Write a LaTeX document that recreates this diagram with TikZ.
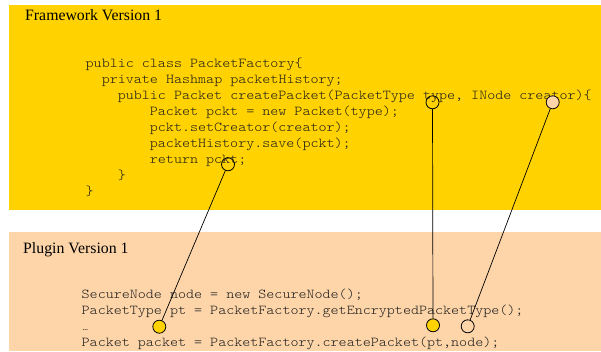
\documentclass[tikz,border=0pt]{standalone}
\usepackage{fontspec}
\setmainfont{Liberation Serif}
\newfontfamily\codefont[WordSpace={1,0,0},FakeStretch=1.125]{Latin Modern Mono Light}
\definecolor{frameyellow}{HTML}{FFD200}
\definecolor{pluginpeach}{HTML}{FDD5A9}
\definecolor{codegray}{HTML}{1E1E1E}
\tikzset{
  title/.style={anchor=base west, inner sep=0pt, font=\fontsize{15.8}{18}\selectfont},
  code/.style={anchor=base west, inner sep=0pt, text=codegray, font=\codefont\fontsize{13.6}{16}\selectfont},
  pin/.style={circle, draw=black, line width=0.8pt, minimum size=13pt, inner sep=0pt},
  link/.style={draw=black, line width=0.7pt}
}
\begin{document}
\begin{tikzpicture}[x=1pt,y=-1pt]
  \useasboundingbox[fill=white] (0,0) rectangle (601,351);
  % the two panels
  \fill[frameyellow] (9,5) rectangle (601,210);
  \fill[pluginpeach] (9,232) rectangle (601,351);

  % framework panel
  \node[title] (ftitle) at (25,20.5) {Framework Version 1};
  \node[code] (f1) at (85.5,67.3) {public class PacketFactory\{};
  \node[code] (f2) at (101.6,83.3) {private Hashmap packetHistory;};
  \node[code] (f3) at (117.6,99.3) {public Packet createPacket(PacketType type, INode creator)\{};
  \node[code] (f4) at (149.7,115.3) {Packet pckt = new Packet(type);};
  \node[code] (f5) at (149.7,131.3) {pckt.setCreator(creator);};
  \node[code] (f6) at (149.7,147.3) {packetHistory.save(pckt);};
  \node[code] (f7) at (149.7,163.3) {return pckt;};
  \node[code] (f8) at (117.6,179.3) {\}};
  \node[code] (f9) at (85.5,195.3) {\}};

  % plugin panel
  \node[title] (ptitle) at (23,253.3) {Plugin Version 1};
  \node[code] (p1) at (81.5,298.3) {SecureNode node = new SecureNode();};
  \node[code] (p2) at (81.5,314.3) {PacketType pt = PacketFactory.getEncryptedPacketType();};
  \node[code] (p3) at (82.3,330.3) {\fontsize{9}{10}\selectfont …};
  \node[code] (p4) at (81.5,346.3) {Packet packet = PacketFactory.createPacket(pt,node);};

  % binding markers
  \node[pin] (ret) at (228,164.3) {};
  \node[pin] (ptype) at (432.5,102.3) {};
  \node[pin, fill=pluginpeach] (pcreator) at (552.7,102.3) {};
  \node[pin, fill=frameyellow] (upt) at (159.3,326.7) {};
  \node[pin, fill=frameyellow] (uarg) at (433,325.3) {};
  \node[pin] (unode) at (467.7,326.3) {};

  % connectors
  \draw[link] (ret) -- (upt);
  \draw[link] (ptype) -- (uarg);
  \draw[link] (pcreator) -- (unode);
\end{tikzpicture}
\end{document}
